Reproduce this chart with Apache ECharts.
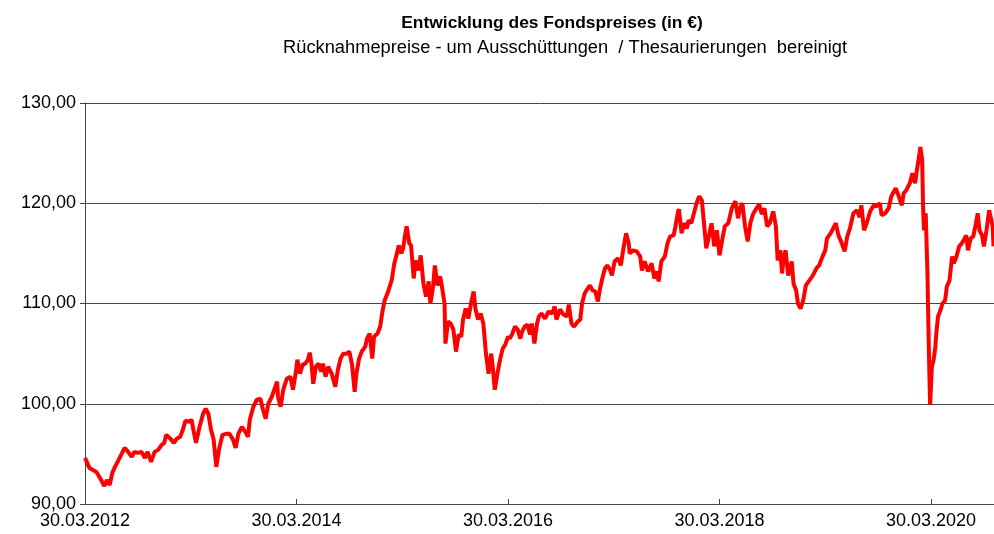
<!DOCTYPE html>
<html>
<head>
<meta charset="utf-8">
<script src="https://cdn.jsdelivr.net/npm/echarts@6/dist/echarts.min.js"></script>
<style>
  html, body { margin: 0; padding: 0; background: #fff; }
  #chart { width: 994px; height: 534px; }
</style>
</head>
<body>
<div id="chart"></div>
<script>
// months since 30.03.2012 and the redemption price read at that point
var months = [
  0,0.5,0.9,1.3,1.7,2.2,2.5,2.8,3.1,3.4, 3.7,4.1,4.5,4.9,5.3,5.6,6.0,6.4,6.8,7.1,
  7.5,7.9,8.3,8.7,9.0,9.2,9.7,10.1,10.4,10.8, 11.1,11.4,11.8,12.1,12.3,12.6,13.0,13.4,13.7,14.0,
  14.3,14.6,14.9,15.2,15.6,16.0,16.4,16.8,17.1,17.4,
  17.8,18.2,18.5,18.7,19.1,19.5,19.9,20.2,20.5,20.8, 21.2,21.6,21.8,21.9,22.2,22.5,22.9,23.3,23.6,23.9,
  24.1,24.4,24.7,25.0,25.3,25.5,25.7,25.9,26.2,26.5, 26.8,27.0,27.3,27.6,28.0,28.4,28.7,29.0,29.3,29.7,
  30.0,30.3,30.6,30.8,31.1,31.4,31.8,32.0,32.3,32.6, 32.8,33.2,33.5,33.7,33.9,34.0,
  34.4,34.8,35.1,35.4,35.6,35.9,36.1,36.3,36.5,36.8, 37.0,37.3,37.5,37.8,38.1,38.4,38.7,39.0,39.2,39.5,
  39.7,40.0,40.3,40.5,40.8,40.9,41.2,41.5,41.8,42.1, 42.4,42.7,42.9,43.2,43.5,43.8,44.1,44.3,44.6,44.9,
  45.2,45.5,45.8,46.1,46.3,46.5,46.8,47.1,47.4,47.7, 48.0,48.2,48.5,48.8,49.1,49.4,49.6,49.9,50.2,50.5,
  50.7,51.0,51.3,51.5,
  51.8,52.2,52.6,53.0,53.3,53.5,53.9,54.3,54.7,54.9, 55.2,55.5,55.9,56.2,56.4,56.7,56.9,57.3,57.6,57.9,
  58.2,58.4,58.7,59.0,59.3,59.6,59.8,60.1,60.5,60.8, 61.1,61.4,61.7,61.8,62.2,62.6,63.0,63.2,63.5,63.9,
  64.3,64.6,64.9,65.1,65.4,65.8,66.1,66.4,66.8,67.0, 67.3,67.4,67.7,68.0,68.3,68.5,68.8,
  69.4,69.7,70.0,70.2,70.5,70.8,71.1,71.4,71.7,72.0, 72.3,72.6,73.0,73.4,73.8,74.1,74.4,74.6,74.9,75.2,
  75.5,75.8,76.2,76.5,76.8,77.1,77.4,77.7,78.1,78.4, 78.6,78.9,79.1,79.3,79.5,79.8,80.2,80.4,80.7,80.9,
  81.2,81.5,81.8,82.2,82.6,83.0,83.3,83.7,84.0,84.2, 84.6,84.9,85.2,85.5,85.8,
  86.0,86.2,86.5,86.8,87.2,87.6,87.9,88.1,88.4,88.7, 89.1,89.5,89.8,90.2,90.4,90.8,91.2,91.5,92.0,92.3,
  92.7,92.9,93.2,93.6,93.9,94.2,94.4,94.7,94.8,95.0, 95.1,95.2,95.4,95.6,95.7,95.8,95.9,96.1,96.3,96.5,
  96.6,96.8,97.1,97.3,97.6,97.8,98.1,98.4,98.6,98.9, 99.2,99.5,99.7,100.0,100.2,100.5,100.8,101.1,101.3,101.5,
  101.8,102.0,102.3,102.6,102.8,103.0,103.1
];
var prices = [
  94.6,93.6,93.4,93.2,92.6,91.8,92.4,91.9,93.1,93.7, 94.2,94.9,95.6,95.2,94.7,95.2,95.1,95.2,94.6,95.2,
  94.2,95.2,95.4,95.9,96.1,96.9,96.5,96.1,96.5,96.7, 97.4,98.3,98.2,98.4,97.4,96.1,97.7,99.0,99.5,99.0,
  97.4,96.4,93.7,95.4,96.9,97.0,97.0,96.4,95.6,97.0,
  97.7,97.2,96.7,98.4,99.7,100.4,100.5,99.4,98.5,100.0, 100.7,101.7,102.2,100.7,99.7,101.4,102.5,102.7,101.4,103.0,
  104.4,103.0,103.9,104.0,104.4,105.1,104.0,102.0,103.7,104.0, 103.2,104.0,102.7,103.7,103.0,101.7,103.4,104.5,105.0,105.0,
  105.2,103.9,101.2,103.0,104.5,105.2,105.7,106.5,107.0,104.5, 106.7,107.0,107.7,108.9,109.9,110.3,
  111.2,112.3,114.0,115.0,115.8,115.0,115.5,116.7,117.7,116.0, 115.8,112.5,114.3,113.3,114.8,112.0,110.7,112.2,110.0,111.7,
  113.8,111.8,112.7,111.7,110.0,106.0,108.2,108.0,107.4,105.2, 106.9,106.7,108.4,109.5,108.5,110.0,111.2,109.5,108.4,109.0,
  108.0,105.0,103.0,105.0,103.4,101.4,103.0,104.4,105.5,105.9, 106.7,106.5,107.0,107.7,107.4,106.5,107.2,107.7,107.9,106.9,
  108.0,106.0,108.0,108.7,
  109.0,108.5,109.2,109.0,109.7,108.4,109.4,108.9,108.7,109.9, 108.0,107.7,108.2,108.4,110.0,111.0,111.3,111.8,111.3,111.2,
  110.2,111.3,112.5,113.5,113.8,113.3,112.8,114.2,114.5,113.8, 115.5,117.0,116.0,115.0,115.3,115.2,114.7,113.3,114.2,113.2,
  114.0,112.5,113.2,112.2,114.2,114.7,116.0,116.7,116.8,117.7, 119.2,119.4,117.0,118.0,117.5,118.3,118.0,
  120.0,120.7,120.3,118.4,115.5,116.7,118.0,115.7,117.3,114.8, 116.3,117.7,118.0,119.5,120.2,118.5,119.7,120.0,117.7,116.2,
  118.0,118.9,119.5,119.9,118.9,119.5,117.7,118.0,119.2,117.7, 114.3,115.3,113.0,114.7,115.3,112.8,114.2,112.0,111.3,110.0,
  109.5,110.3,111.8,112.3,112.8,113.5,113.8,114.7,115.3,116.5, 117.0,117.5,118.0,116.8,116.2,
  115.7,115.2,116.7,117.5,119.0,119.3,118.6,119.8,117.3,118.0, 119.2,119.8,119.7,120.0,118.8,119.0,119.5,120.7,121.5,120.8,
  119.8,121.0,121.3,122.0,123.0,122.0,123.3,125.0,125.6,124.3, 119.7,117.3,119.0,113.0,108.0,103.7,99.9,103.7,104.4,105.7,
  107.0,108.7,109.4,110.0,110.3,111.7,112.3,114.7,114.0,114.7, 115.7,116.0,116.3,116.8,115.3,116.5,116.7,118.0,119.0,117.3,
  116.8,115.7,117.3,119.3,119.2,117.7,115.7
];
var startYear = 2012;      // tick labels: 30.03.2012 ... 30.03.2020, every 24 months
var yTicks = [90, 100, 110, 120, 130];

var dom = document.getElementById("chart");
var chart = echarts.init(dom);

var seriesData = [];
months.forEach(function(m, i) {
  seriesData.push([m, prices[i]]);
});

var font = 'Liberation Sans';

option = {
  animation: false,
  title: [
    {
      text: 'Entwicklung des Fondspreises (in €)',
      left: 547,
      top: 10,
      textAlign: 'center',
      textStyle: {color: '#000', fontSize: 17.4, fontWeight: 'bold', fontFamily: font}
    },
    {
      text: 'Rücknahmepreise - um Ausschüttungen  / Thesaurierungen  bereinigt',
      left: 560,
      top: 34,
      textAlign: 'center',
      textStyle: {color: '#000', fontSize: 18.3, fontWeight: 'normal', fontFamily: font}
    }
  ],
  grid: {left: 85, right: 0, top: 103, bottom: 30, containLabel: false},
  xAxis: {
    type: 'value',
    min: 0,
    max: 103.15,
    interval: 24,
    axisLine: {show: true, lineStyle: {color: '#444', width: 1}},
    axisTick: {show: true, inside: true, length: 5, lineStyle: {color: '#444'}},
    axisLabel: {
      color: '#000',
      fontSize: 18,
      fontFamily: font,
      margin: 8,
      showMaxLabel: false,
      formatter: function(v) {
        if (v % 24 !== 0) return '';
        return '30.03.' + (startYear + v / 12);
      }
    },
    splitLine: {show: false}
  },
  yAxis: {
    type: 'value',
    min: yTicks[0],
    max: yTicks[yTicks.length - 1],
    interval: 10,
    axisLine: {show: true, lineStyle: {color: '#444', width: 1}},
    axisTick: {show: true, length: 5, lineStyle: {color: '#444'}},
    axisLabel: {
      color: '#000',
      fontSize: 18,
      fontFamily: font,
      margin: 9,
      formatter: function(v) { return v.toFixed(2).replace('.', ','); }
    },
    splitLine: {show: true, lineStyle: {color: '#444', width: 1}}
  },
  series: [
    {
      type: 'line',
      data: seriesData,
      showSymbol: false,
      smooth: false,
      lineStyle: {color: '#ff0000', width: 4},
      itemStyle: {color: '#ff0000'}
    }
  ]
};
chart.setOption(option, true);
</script>
</body>
</html>
